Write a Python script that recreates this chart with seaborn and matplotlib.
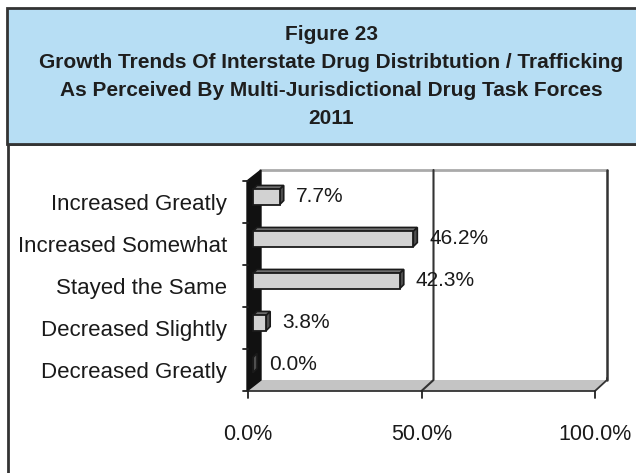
import matplotlib
matplotlib.use("Agg")
import matplotlib.pyplot as plt
import matplotlib.patches as mpatches
from matplotlib.transforms import offset_copy, IdentityTransform
import seaborn as sns
import pandas as pd

# ---------------------------------------------
# DATA
# ---------------------------------------------
categories = ["Increased Greatly", "Increased Somewhat", "Stayed the Same",
              "Decreased Slightly", "Decreased Greatly"]
percents = [7.7, 46.2, 42.3, 3.8, 0.0]
tick_values = [0, 50, 100]
tick_labels = ["0.0%", "50.0%", "100.0%"]
title_lines = ["Figure 23",
               "Growth Trends Of Interstate Drug Distribtution / Trafficking",
               "As Perceived By Multi-Jurisdictional Drug Task Forces",
               "2011"]

sns.set_style("white")
plt.rcParams['font.family'] = ['Liberation Sans', 'DejaVu Sans']

W, H = 636, 473
fig = plt.figure(figsize=(W / 100, H / 100), dpi=100)

# ---------------------------------------------
# FRAME: title box + lower white box
# ---------------------------------------------
def fx(px):
    return px / W

def fy(py):
    return 1 - py / H

fig.patches.append(mpatches.Rectangle((fx(8), fy(474)), fx(700), (474 - 144) / H,
                                      transform=fig.transFigure, facecolor="white",
                                      edgecolor="#333333", lw=2, zorder=-3))
fig.patches.append(mpatches.Rectangle((fx(7), fy(144)), fx(700), 136 / H,
                                      transform=fig.transFigure, facecolor="#b7def4",
                                      edgecolor="#333333", lw=2, zorder=-2))
for i, line in enumerate(title_lines):
    fig.text(fx(331), fy(35 + i * 28), line, ha="center", va="center",
             fontsize=15, fontweight="bold", color="#1e1e1e")

# ---------------------------------------------
# CHART (front plane of the 3D box)
# ---------------------------------------------
ax = fig.add_axes([fx(248), fy(391), 347 / W, 210 / H])
df = pd.DataFrame({"Category": categories, "Percent": percents})

sns.barplot(data=df, x="Percent", y="Category", orient="h", color="#d2d2d2",
            edgecolor="#1a1a1a", linewidth=1.3, width=0.36, saturation=1, ax=ax)
ax.set_xlim(0, 100)
ax.set_ylim(len(categories) - 0.5, -0.5)
ax.patch.set_visible(False)
for s in ax.spines.values():
    s.set_visible(False)
ax.set_xlabel("")
ax.set_ylabel("")
ax.set_xticks(tick_values)
ax.set_xticklabels(tick_labels)
ax.tick_params(axis="x", length=0, pad=24, labelsize=15.5, colors="#1a1a1a")
ax.tick_params(axis="y", length=0, pad=15, labelsize=16, colors="#1a1a1a")

# depth of the box and of the bars (pixels)
DX, DY = 12, 11
BD = 4
BOFF = 5

def disp(x, y):
    return ax.transAxes.transform((x, y))

def poly(points, **kw):
    p = mpatches.Polygon(points, closed=True, transform=IdentityTransform(),
                         clip_on=False, **kw)
    ax.add_patch(p)
    return p

(L, B) = disp(0, 0)
(R, T) = disp(1, 1)

# back wall
poly([(L + DX, B + DY), (R + DX, B + DY), (R + DX, T + DY), (L + DX, T + DY)],
     facecolor="white", edgecolor="none", zorder=0.1)
ax.plot([L + DX, R + DX], [T + DY, T + DY], color="#aaaaaa", lw=2,
        transform=IdentityTransform(), clip_on=False, zorder=0.2)
ax.plot([R + DX, R + DX], [T + DY, B + DY], color="#333333", lw=1.8,
        transform=IdentityTransform(), clip_on=False, zorder=0.2)
# floor
poly([(L, B), (R, B), (R + DX, B + DY), (L + DX, B + DY)],
     facecolor="#c4c4c4", edgecolor="none", zorder=0.2)
ax.plot([L, R, R + DX, R + DX], [B, B, B + DY, B + DY + 2], color="#333333", lw=1.3,
        transform=IdentityTransform(), clip_on=False, zorder=0.3)
# left wall
poly([(L - 1, B), (L - 1, T), (L + DX + 1, T + DY), (L + DX + 1, B + DY)],
     facecolor="#111111", edgecolor="#111111", lw=1, zorder=0.4)

# gridline at 50%
gx = ax.transData.transform((50, 0))[0]
ax.plot([gx + DX, gx + DX, gx], [T + DY, B + DY, B], color="#333333", lw=1.5,
        transform=IdentityTransform(), clip_on=False, zorder=0.35)

# tick marks
for v in tick_values:
    tx = ax.transData.transform((v, 0))[0]
    ax.plot([tx, tx], [B, B - 7], color="#222222", lw=1.3,
            transform=IdentityTransform(), clip_on=False, zorder=0.5)
for k in range(len(categories) + 1):
    ty = ax.transData.transform((0, k - 0.5))[1]
    ax.plot([L - 5, L], [ty, ty], color="#222222", lw=1.3,
            transform=IdentityTransform(), clip_on=False, zorder=0.5)

# 3D faces of the bars
shift = offset_copy(ax.transData, fig=fig, x=BOFF, y=BOFF, units="dots")
bars = [p for p in ax.patches if isinstance(p, mpatches.Rectangle)]
for p in bars:
    x0, y0 = p.get_x(), p.get_y()
    x1, y1 = x0 + p.get_width(), y0 + p.get_height()
    (ax0, ay0) = ax.transData.transform((x0, y0))
    (ax1, ay1) = ax.transData.transform((x1, y1))
    xl, xr = min(ax0, ax1) + BOFF, max(ax0, ax1) + BOFF
    yb, yt = min(ay0, ay1) + BOFF, max(ay0, ay1) + BOFF
    p.set_transform(shift)
    p.set_zorder(2)
    # top face
    poly([(xl, yt), (xr, yt), (xr + BD, yt + BD), (xl + BD, yt + BD)],
         facecolor="#6e6e6e", edgecolor="#1a1a1a", lw=1.2, zorder=1.9)
    # side face
    poly([(xr, yb), (xr, yt), (xr + BD, yt + BD), (xr + BD, yb + BD)],
         facecolor="#505050", edgecolor="#1a1a1a", lw=1.2, zorder=1.9)

# value labels
lab = offset_copy(ax.transData, fig=fig, x=BOFF + 16, y=BOFF + 1, units="dots")
for i, v in enumerate(percents):
    ax.text(v, i, f"{v:.1f}%", transform=lab, ha="left", va="center",
            fontsize=15, color="#1a1a1a", zorder=3)

plt.savefig("out.png", dpi=100)
